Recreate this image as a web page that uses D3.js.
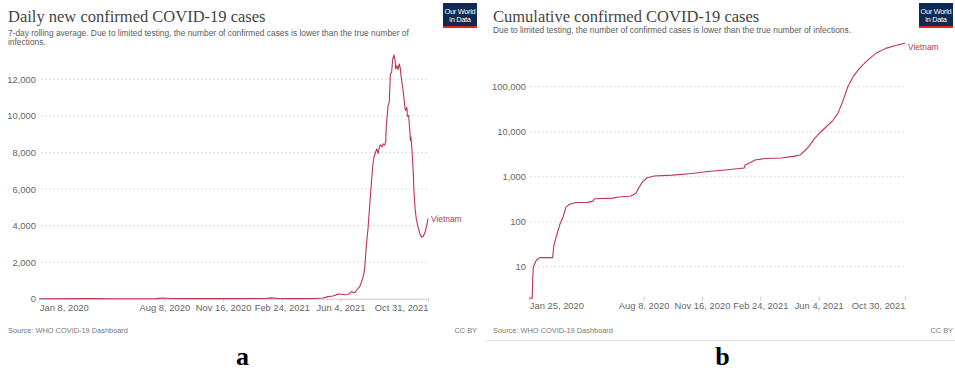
<!DOCTYPE html>
<html>
<head>
<meta charset="utf-8">
<script src="https://cdn.jsdelivr.net/npm/d3@7"></script>
<style>
  html, body { margin: 0; padding: 0; background: #fff; }
  svg { display: block; }
  text { font-family: "Liberation Sans", Arial, sans-serif; }
</style>
</head>
<body>
<svg id="chart" width="955" height="371"></svg>
<script>
// ---------- DATA ----------
// Panel a: daily new confirmed cases (7-day rolling average), Vietnam
const dailyDates = [
  "2020-01-08","2020-03-25","2020-04-10","2020-05-15","2020-07-25","2020-08-05","2020-08-20","2020-09-10",
  "2020-12-01","2021-01-28","2021-02-05","2021-02-20","2021-03-20","2021-04-20","2021-05-05","2021-05-12",
  "2021-05-22","2021-05-31","2021-06-05","2021-06-12","2021-06-17","2021-06-23","2021-06-28","2021-07-04",
  "2021-07-07","2021-07-10","2021-07-13","2021-07-15","2021-07-18","2021-07-21","2021-07-23","2021-07-26",
  "2021-07-29","2021-07-31","2021-08-03","2021-08-05","2021-08-07","2021-08-10","2021-08-12","2021-08-14",
  "2021-08-16","2021-08-18","2021-08-20","2021-08-21","2021-08-24","2021-08-26","2021-08-28","2021-08-30",
  "2021-09-01","2021-09-03","2021-09-05","2021-09-06","2021-09-08","2021-09-10","2021-09-12","2021-09-14",
  "2021-09-15","2021-09-19","2021-09-22","2021-09-23","2021-09-25","2021-09-26","2021-09-28","2021-09-30",
  "2021-10-01","2021-10-02","2021-10-04","2021-10-05","2021-10-06","2021-10-07","2021-10-09","2021-10-11",
  "2021-10-14","2021-10-17","2021-10-20","2021-10-23","2021-10-26","2021-10-29","2021-10-31"
];
const dailyValues = [
  0,15,5,1,5,40,15,2,
  3,10,45,10,5,8,40,100,
  150,250,240,220,230,380,320,570,
  680,950,1250,1600,2900,3900,4800,6100,
  7300,7750,8050,8200,7930,8380,8420,8290,
  8470,8400,8560,9470,10560,10740,12290,12380,
  13110,13330,13020,12570,12750,12530,12840,12570,
  12200,11290,10380,10290,10470,9980,10020,9200,
  8660,8840,8000,7400,6840,5930,4930,4380,
  3930,3570,3380,3420,3650,4020,4380
];

// Panel b: cumulative confirmed cases, Vietnam
const cumDates = [
  "2020-01-25","2020-01-30","2020-01-31","2020-02-01","2020-02-06","2020-02-12","2020-03-05","2020-03-07",
  "2020-03-11","2020-03-17","2020-03-23","2020-03-28","2020-04-03","2020-04-14","2020-05-04","2020-05-13",
  "2020-05-16","2020-06-16","2020-06-27","2020-07-17","2020-07-26","2020-07-30","2020-08-06","2020-08-14",
  "2020-08-26","2020-09-26","2020-10-30","2020-11-22","2020-12-26","2021-01-23","2021-01-27","2021-01-29",
  "2021-02-06","2021-02-15","2021-03-04","2021-04-01","2021-04-24","2021-05-03","2021-05-11","2021-05-20",
  "2021-05-28","2021-06-08","2021-06-17","2021-06-28","2021-07-07","2021-07-15","2021-07-24","2021-08-02",
  "2021-08-13","2021-08-27","2021-09-10","2021-09-27","2021-10-11","2021-10-24","2021-10-30"
];
const cumValues = [
  2,2,6,10,14,16,16,29,
  46,85,130,215,245,268,270,288,
  325,335,355,375,430,550,770,950,
  1040,1090,1180,1290,1410,1540,1550,1820,
  2050,2350,2550,2620,2870,3030,3780,5050,
  7100,10000,12900,17500,25600,46000,100000,167000,
  256000,390000,550000,710000,800000,890000,920000
];

const yTicksA = [0, 2000, 4000, 6000, 8000, 10000, 12000];
const yTicksB = [10, 100, 1000, 10000, 100000];
const xTickDatesA = ["2020-01-08","2020-08-08","2020-11-16","2021-02-24","2021-06-04","2021-10-31"];
const xTickLabelsA = ["Jan 8, 2020","Aug 8, 2020","Nov 16, 2020","Feb 24, 2021","Jun 4, 2021","Oct 31, 2021"];
const xTickDatesB = ["2020-01-25","2020-08-08","2020-11-16","2021-02-24","2021-06-04","2021-10-30"];
const xTickLabelsB = ["Jan 25, 2020","Aug 8, 2020","Nov 16, 2020","Feb 24, 2021","Jun 4, 2021","Oct 30, 2021"];

const titleA = "Daily new confirmed COVID-19 cases";
const subtitleA = ["7-day rolling average. Due to limited testing, the number of confirmed cases is lower than the true number of", "infections."];
const titleB = "Cumulative confirmed COVID-19 cases";
const subtitleB = ["Due to limited testing, the number of confirmed cases is lower than the true number of infections."];
const seriesName = "Vietnam";
const sourceText = "Source: WHO COVID-19 Dashboard";
const licenseText = "CC BY";

// ---------- STYLE ----------
const LINE = "#c0344f";
const parse = d3.utcParse("%Y-%m-%d");
const svg = d3.select("#chart");

function header(g, x0, logoX, title, subtitle, subY) {
  g.append("text").attr("x", x0).attr("y", 21.5)
    .style("font-family", "'Liberation Serif', 'Times New Roman', serif")
    .style("font-size", "16.5px").attr("fill", "#444").text(title);
  subtitle.forEach((s, i) => {
    g.append("text").attr("x", x0).attr("y", subY + i * 9.4)
      .style("font-size", "8.4px").attr("fill", "#5b5b5b").text(s);
  });
  const logo = g.append("g").attr("transform", `translate(${logoX},3)`);
  logo.append("rect").attr("width", 34).attr("height", 25).attr("fill", "#0f2a52");
  logo.append("rect").attr("y", 23).attr("width", 34).attr("height", 2).attr("fill", "#d42b21");
  logo.append("text").attr("x", 17).attr("y", 10.8).attr("text-anchor", "middle")
    .style("font-size", "7.4px").style("letter-spacing", "-0.3px").attr("fill", "#fff").text("Our World");
  logo.append("text").attr("x", 17).attr("y", 19).attr("text-anchor", "middle")
    .style("font-size", "7.4px").style("letter-spacing", "-0.3px").attr("fill", "#fff").text("in Data");
}

function footer(g, x0, xRight, letter, letterX) {
  g.append("text").attr("x", x0).attr("y", 333)
    .style("font-size", "7.4px").attr("fill", "#777").text(sourceText);
  g.append("text").attr("x", xRight).attr("y", 333).attr("text-anchor", "end")
    .style("font-size", "7.4px").attr("fill", "#777").text(licenseText);
  g.append("text").attr("x", letterX).attr("y", 365).attr("text-anchor", "middle")
    .style("font-family", "'Liberation Serif', 'Times New Roman', serif")
    .style("font-weight", "bold").style("font-size", "26px").attr("fill", "#000").text(letter);
}

// ---------- PANEL A ----------
{
  const g = svg.append("g");
  header(g, 8, 443, titleA, subtitleA, 36);
  const x = d3.scaleUtc().domain([parse("2020-01-08"), parse("2021-10-31")]).range([39.3, 428]);
  const y = d3.scaleLinear().domain([0, 12000]).range([298.7, 79.3]);

  g.append("g").selectAll("line").data(yTicksA.filter(d => d > 0)).join("line")
    .attr("x1", 41).attr("x2", 428).attr("y1", d => y(d)).attr("y2", d => y(d))
    .attr("stroke", "#d6d6d6").attr("stroke-width", 0.8).attr("stroke-dasharray", "2,2");

  const ya = g.append("g").attr("transform", "translate(39,0)")
    .call(d3.axisLeft(y).tickValues(yTicksA).tickSize(0).tickPadding(3).tickFormat(d3.format(",")));
  ya.select(".domain").remove();
  ya.selectAll("text").style("font-size", "9.4px").attr("fill", "#666").style("font-family", "'Liberation Sans', Arial, sans-serif");

  const xd = xTickDatesA.map(parse);
  const xa = g.append("g").attr("transform", `translate(0,${y(0)})`)
    .call(d3.axisBottom(x).tickValues(xd).tickSize(3).tickSizeOuter(0).tickPadding(2.5)
      .tickFormat((d, i) => xTickLabelsA[i]));
  xa.select(".domain").attr("stroke", "#c8c8c8");
  xa.selectAll(".tick line").attr("stroke", "#c8c8c8");
  xa.selectAll("text").style("font-size", "9.4px").attr("fill", "#666").style("font-family", "'Liberation Sans', Arial, sans-serif")
    .attr("text-anchor", (d, i) => i === 0 ? "start" : (i === xd.length - 1 ? "end" : "middle"));

  const data = dailyDates.map((d, i) => [parse(d), dailyValues[i]]);
  g.append("path").datum(data).attr("fill", "none").attr("stroke", LINE).attr("stroke-width", 1.1)
    .attr("stroke-linejoin", "round")
    .attr("d", d3.line().x(d => x(d[0])).y(d => y(d[1])));
  const last = data[data.length - 1];
  g.append("text").attr("x", x(last[0]) + 3).attr("y", y(last[1])).attr("dy", "0.35em")
    .style("font-size", "8.4px").attr("fill", LINE).text(seriesName);

  footer(g, 8, 477, "a", 242.5);
}

// ---------- PANEL B ----------
{
  const g = svg.append("g");
  header(g, 493, 919, titleB, subtitleB, 33);
  const x = d3.scaleUtc().domain([parse("2020-01-25"), parse("2021-10-30")]).range([529.3, 905]);
  const y = d3.scaleLog().domain([2, 920000]).range([298.3, 43.3]);

  g.append("g").selectAll("line").data(yTicksB).join("line")
    .attr("x1", 530).attr("x2", 905).attr("y1", d => y(d)).attr("y2", d => y(d))
    .attr("stroke", "#d6d6d6").attr("stroke-width", 0.8).attr("stroke-dasharray", "2,2");

  const ya = g.append("g").attr("transform", "translate(529,0)")
    .call(d3.axisLeft(y).tickValues(yTicksB).tickSize(0).tickPadding(3).tickFormat(d3.format(",")));
  ya.select(".domain").remove();
  ya.selectAll("text").style("font-size", "9.4px").attr("fill", "#666").style("font-family", "'Liberation Sans', Arial, sans-serif");

  const xd = xTickDatesB.map(parse);
  const xa = g.append("g").attr("transform", "translate(0,296.5)")
    .call(d3.axisBottom(x).tickValues(xd).tickSize(4).tickSizeOuter(0).tickPadding(2)
      .tickFormat((d, i) => xTickLabelsB[i]));
  xa.select(".domain").remove();
  xa.selectAll(".tick line").attr("stroke", "#c8c8c8");
  xa.selectAll("text").style("font-size", "9.4px").attr("fill", "#666").style("font-family", "'Liberation Sans', Arial, sans-serif")
    .attr("text-anchor", (d, i) => i === 0 ? "start" : (i === xd.length - 1 ? "end" : "middle"));

  const data = cumDates.map((d, i) => [parse(d), cumValues[i]]);
  g.append("path").datum(data).attr("fill", "none").attr("stroke", LINE).attr("stroke-width", 1.1)
    .attr("stroke-linejoin", "round")
    .attr("d", d3.line().x(d => x(d[0])).y(d => y(d[1])));
  const last = data[data.length - 1];
  g.append("text").attr("x", x(last[0]) + 3).attr("y", y(last[1]) + 4).attr("dy", "0.35em")
    .style("font-size", "8.4px").attr("fill", LINE).text(seriesName);

  g.append("line").attr("x1", 485).attr("x2", 955).attr("y1", 340.5).attr("y2", 340.5)
    .attr("stroke", "#e2e2e2").attr("stroke-width", 1);

  footer(g, 493, 953, "b", 722.5);
}
</script>
</body>
</html>
